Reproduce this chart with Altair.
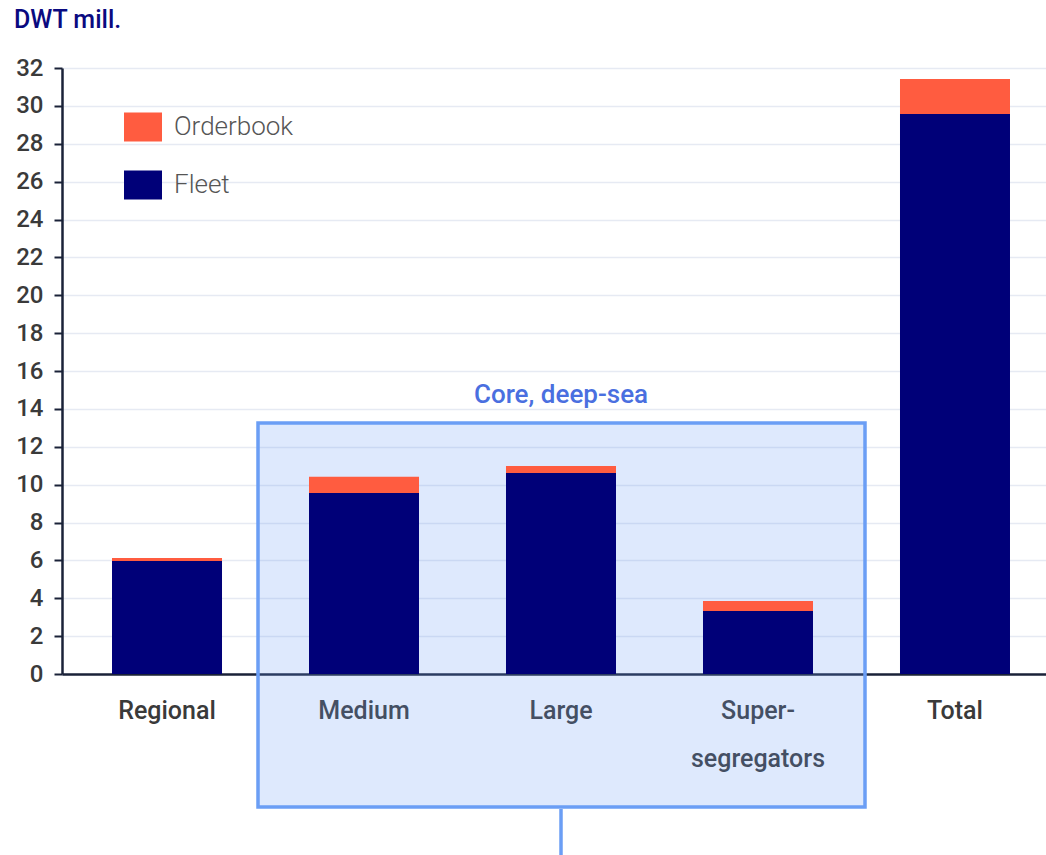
import altair as alt
import pandas as pd

categories = ["Regional", "Medium", "Large", "Super-segregators", "Total"]
fleet = [5.97, 9.56, 10.61, 3.33, 29.57]
orderbook = [0.16, 0.85, 0.37, 0.53, 1.85]
series = ["Orderbook", "Fleet"]
colors = ["#ff5c40", "#000078"]

rows = []
for c, f, o in zip(categories, fleet, orderbook):
    rows.append({"category": c, "series": "Fleet", "value": f, "ord": 0})
    rows.append({"category": c, "series": "Orderbook", "value": o, "ord": 1})
df = pd.DataFrame(rows)

FONT = "Roboto"

xscale = alt.Scale(domain=categories, paddingInner=0.4416, paddingOuter=0.2183, align=0.5814)
yscale = alt.Scale(domain=[0, 32], nice=False)

# annotation box for "Core, deep-sea"
box = alt.Chart(pd.DataFrame({"a": [0]})).mark_rect(
    fill="#6a9cf5", fillOpacity=0.22, stroke="#6b9ef5", strokeWidth=3.5, clip=False
).encode(
    x=alt.value(196), x2=alt.value(803), y=alt.value(355), y2=alt.value(739)
)
connector = alt.Chart(pd.DataFrame({"a": [0]})).mark_rule(
    color="#6b9ef5", strokeWidth=3.5, clip=False
).encode(x=alt.value(499), y=alt.value(741), y2=alt.value(790))
box_label = alt.Chart(pd.DataFrame({"t": ["Core, deep-sea"]})).mark_text(
    font=FONT, fontSize=26, fontWeight=500, color="#4a6fe0", align="center", baseline="middle"
).encode(x=alt.value(499), y=alt.value(327), text="t:N")

unit_title = alt.Chart(pd.DataFrame({"t": ["DWT mill."]})).mark_text(
    font=FONT, fontSize=25, fontWeight=500, color="#0a0a80", align="left", baseline="alphabetic"
).encode(x=alt.value(-48), y=alt.value(-40), text="t:N")

bars = alt.Chart(df).mark_bar().encode(
    x=alt.X("category:N", sort=categories, scale=xscale,
            axis=alt.Axis(title=None, labelAngle=0, ticks=False, grid=False,
                          domainColor="#1a2238", domainWidth=2.5,
                          labelFont=FONT, labelFontSize=25, labelFontWeight=500,
                          labelColor="#3a3a3a", labelPadding=24, labelBaseline="top",
                          labelLineHeight=48,
                          labelExpr="datum.label == 'Super-segregators' ? ['Super-', 'segregators'] : datum.label")),
    y=alt.Y("value:Q", stack="zero", scale=yscale,
            axis=alt.Axis(title=None, values=list(range(0, 33, 2)), tickSize=8, tickColor="#1a2238",
                          tickWidth=2, domainColor="#1a2238", domainWidth=2.5,
                          gridColor="#e6eaf3", gridWidth=1.5,
                          labelFont=FONT, labelFontSize=24, labelFontWeight=500,
                          labelColor="#3a3a3a", labelPadding=11)),
    color=alt.Color("series:N", scale=alt.Scale(domain=series, range=colors),
                    legend=alt.Legend(title=None, orient="none", legendX=62, legendY=40,
                                      symbolType="M-1,-0.763L1,-0.763L1,0.763L-1,0.763Z",
                                      symbolSize=1444, symbolStrokeWidth=0, symbolOpacity=1,
                                      labelFont=FONT, labelFontSize=26, labelFontWeight=300,
                                      labelColor="#555555", labelOffset=12, rowPadding=24)),
    order=alt.Order("ord:Q", sort="ascending"),
)

chart = alt.layer(box, connector, bars, box_label, unit_title).properties(
    width=984, height=606,
    padding={"left": 62, "top": 68, "right": 0, "bottom": 181},
    autosize=alt.AutoSizeParams(type="none"),
).configure_view(stroke=None)

chart.save("out.html", embed_options={"renderer": "svg", "actions": False})
